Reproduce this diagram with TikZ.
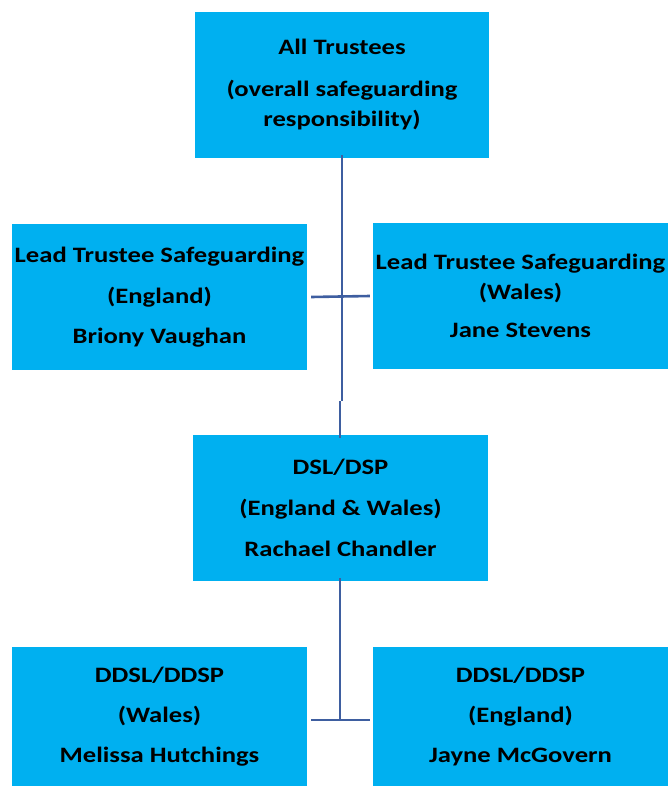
\documentclass[tikz,border=0pt]{standalone}
\usepackage{fontspec}
\setmainfont[FakeStretch=1.21]{Carlito}
\definecolor{boxcyan}{RGB}{0,176,240}
\definecolor{linkblue}{RGB}{62,94,160}
\begin{document}
\begin{tikzpicture}[x=1pt,y=-1pt,
  orgbox/.style={fill=boxcyan, draw=none, minimum width=295pt, minimum height=146pt, inner sep=0pt,
    align=center, font=\fontsize{22}{30}\selectfont\bfseries, anchor=center},
  link/.style={draw=linkblue, line width=2.6pt}]
\useasboundingbox (0,0) rectangle (670,787);
\node[orgbox, minimum width=294pt] (top) at (342,85) {All Trustees\\[12pt](overall safeguarding\\responsibility)};
\node[orgbox] (lt) at (159.5,297) {Lead Trustee Safeguarding\\[11pt](England)\\[10pt]Briony Vaughan};
\node[orgbox] (rt) at (520.5,296) {Lead Trustee Safeguarding\\(Wales)\\[8pt]Jane Stevens};
\node[orgbox] (dsl) at (340.5,508) {DSL/DSP\\[11pt](England \& Wales)\\[11pt]Rachael Chandler};
\node[orgbox, minimum height=139pt] (lb) at (159.5,716.5) {DDSL/DDSP\\[10pt](Wales)\\[10pt]Melissa Hutchings};
\node[orgbox, minimum height=139pt] (rb) at (520.5,716.5) {DDSL/DDSP\\[10pt](England)\\[10pt]Jayne McGovern};
% top to DSL
\coordinate (j1) at (342,401);
\coordinate (j2) at (340,401);
\draw[link] ([yshift=3pt]top.south -| j1) -- (j1);
\draw[link] (j2) -- ([yshift=-3pt]dsl.north -| j2);
% between mid boxes
\draw[link] ([xshift=4pt]lt.east) -- ([xshift=-3pt]rt.west);
% DSL down
\coordinate (j3) at (340,720);
\draw[link] ([yshift=3pt]dsl.south -| j3) -- (j3);
\draw[link] ([xshift=4pt]lb.east |- j3) -- ([xshift=-3pt]rb.west |- j3);
\end{tikzpicture}
\end{document}
